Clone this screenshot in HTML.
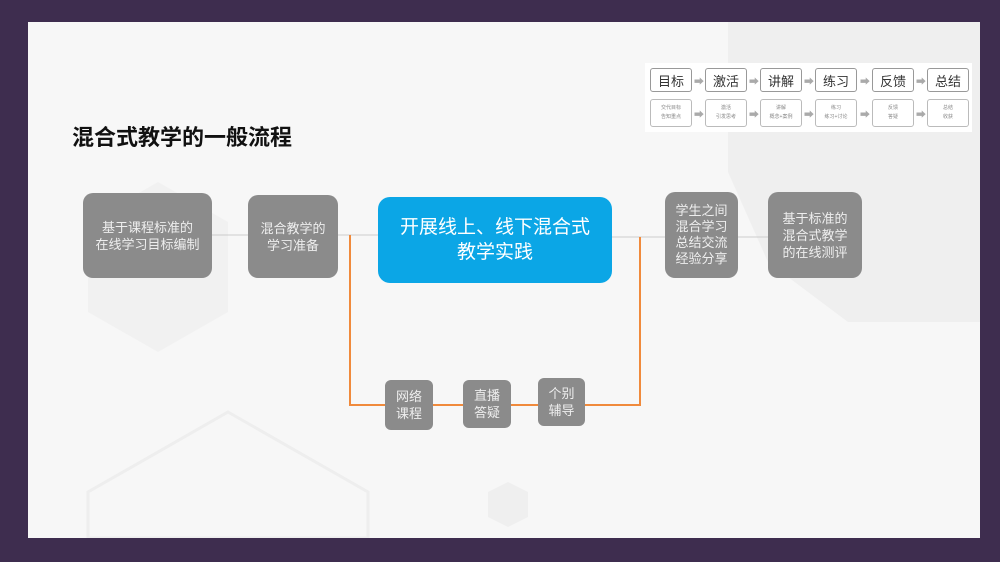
<!DOCTYPE html>
<html><head><meta charset="utf-8"><style>
body{margin:0;width:1000px;height:562px;background:#3e2d4f;position:relative;overflow:hidden;font-family:"Liberation Sans","Noto Sans CJK SC",sans-serif}
.slide{position:absolute;left:28px;top:22px;width:952px;height:516px;background:#f7f7f7;overflow:hidden}
.a{position:absolute}
.g{position:absolute;background:#8b8b8b;color:#eee;border-radius:10px;display:flex;align-items:center;justify-content:center;text-align:center;font-size:13px;line-height:17px}
.s{font-size:13px;line-height:17px;border-radius:6px}
.tb{position:absolute;border:1.5px solid #999;background:#fff;border-radius:3px;display:flex;align-items:center;justify-content:center;font-size:13px;color:#333}
.tb2{position:absolute;border:1px solid #bbb;background:#fff;border-radius:3px;display:flex;align-items:center;justify-content:center;text-align:center;font-size:5px;line-height:9px;color:#888}
.ar{position:absolute;color:#aaa;font-size:10px}
</style></head><body>
<div class="slide">
<svg class="a" style="left:0;top:0" width="952" height="516">
<polygon points="700,0 952,0 952,300 820,300 740,240 700,150" fill="#efefef"/>
<polygon points="130,160 200,200 200,290 130,330 60,290 60,200" fill="#f1f1f1"/>
<polygon points="200,390 340,470 340,516 60,516 60,470" fill="none" stroke="#eeeeee" stroke-width="3"/>
<polygon points="480,460 500,470 500,495 480,505 460,495 460,470" fill="#efefef"/>
<line x1="184" y1="213" x2="220" y2="213" stroke="#ccc"/>
<line x1="310" y1="213" x2="350" y2="213" stroke="#ccc"/>
<line x1="584" y1="215" x2="637" y2="215" stroke="#ccc"/>
<line x1="710" y1="215" x2="740" y2="215" stroke="#ccc"/>
<polyline points="322,213 322,383 612,383 612,215" fill="none" stroke="#f08a3c" stroke-width="2"/>
</svg>
</div>
<div class="a" style="left:72px;top:120px;font-size:22px;font-weight:bold;color:#111">混合式教学的一般流程</div>
<div class="g" style="left:83px;top:193px;width:129px;height:85px">基于课程标准的<br>在线学习目标编制</div>
<div class="g" style="left:248px;top:195px;width:90px;height:83px">混合教学的<br>学习准备</div>
<div class="g" style="left:378px;top:197px;width:234px;height:86px;background:#0ba6e6;color:#fff;font-size:19px;line-height:25px;border-radius:12px">开展线上、线下混合式<br>教学实践</div>
<div class="g" style="left:665px;top:192px;width:73px;height:86px;line-height:16px">学生之间<br>混合学习<br>总结交流<br>经验分享</div>
<div class="g" style="left:768px;top:192px;width:94px;height:86px">基于标准的<br>混合式教学<br>的在线测评</div>
<div class="g s" style="left:385px;top:380px;width:48px;height:50px">网络<br>课程</div>
<div class="g s" style="left:463px;top:380px;width:48px;height:48px">直播<br>答疑</div>
<div class="g s" style="left:538px;top:378px;width:47px;height:48px">个别<br>辅导</div>
<div class="a" style="left:645px;top:63px;width:327px;height:69px;background:#fff"></div>
<div class="tb" style="left:650px;top:68px;width:40px;height:22px">目标</div>
<div class="tb" style="left:705px;top:68px;width:40px;height:22px">激活</div>
<div class="tb" style="left:760px;top:68px;width:40px;height:22px">讲解</div>
<div class="tb" style="left:815px;top:68px;width:40px;height:22px">练习</div>
<div class="tb" style="left:872px;top:68px;width:40px;height:22px">反馈</div>
<div class="tb" style="left:927px;top:68px;width:40px;height:22px">总结</div>
<div class="tb2" style="left:650px;top:99px;width:40px;height:26px">交代目标<br>告知重点</div>
<div class="tb2" style="left:705px;top:99px;width:40px;height:26px">激活<br>引发思考</div>
<div class="tb2" style="left:760px;top:99px;width:40px;height:26px">讲解<br>概念+案例</div>
<div class="tb2" style="left:815px;top:99px;width:40px;height:26px">练习<br>练习+讨论</div>
<div class="tb2" style="left:872px;top:99px;width:40px;height:26px">反馈<br>答疑</div>
<div class="tb2" style="left:927px;top:99px;width:40px;height:26px">总结<br>收获</div>
<div class="ar" style="left:694px;top:73px">➡</div><div class="ar" style="left:749px;top:73px">➡</div><div class="ar" style="left:804px;top:73px">➡</div><div class="ar" style="left:860px;top:73px">➡</div><div class="ar" style="left:916px;top:73px">➡</div>
<div class="ar" style="left:694px;top:106px">➡</div><div class="ar" style="left:749px;top:106px">➡</div><div class="ar" style="left:804px;top:106px">➡</div><div class="ar" style="left:860px;top:106px">➡</div><div class="ar" style="left:916px;top:106px">➡</div>
</body></html>
